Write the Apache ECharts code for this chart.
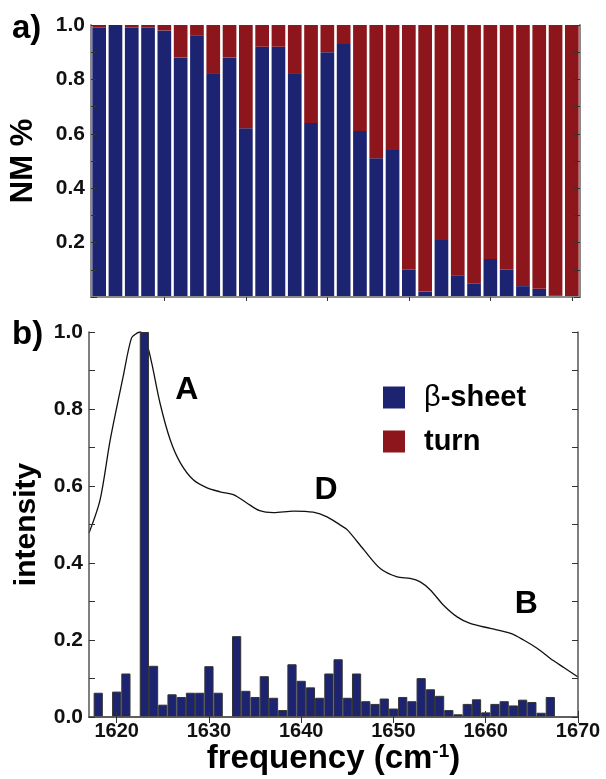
<!DOCTYPE html>
<html>
<head>
<meta charset="utf-8">
<script src="https://cdn.jsdelivr.net/npm/echarts@6/dist/echarts.min.js"></script>
<style>
html, body { margin: 0; padding: 0; background: #fff; }
#main { width: 606px; height: 779px; }
</style>
</head>
<body>
<div id="main"></div>
<script>
// panel a: fraction per cluster (blue = beta-sheet, red = turn)
var clusters = ['1', '2', '3', '4', '5', '6', '7', '8', '9', '10', '11', '12', '13', '14', '15',
	'16', '17', '18', '19', '20', '21', '22', '23', '24', '25', '26', '27', '28', '29', '30'];
var sheetFrac = [0.99, 1.00, 0.99, 0.99, 0.98, 0.88, 0.96, 0.82, 0.88, 0.62, 0.92, 0.92, 0.82, 0.64, 0.90,
	0.93, 0.61, 0.51, 0.54, 0.10, 0.02, 0.21, 0.08, 0.05, 0.14, 0.10, 0.04, 0.03, 0.005, 0.00];
var turnFrac = [0.01, 0.00, 0.01, 0.01, 0.02, 0.12, 0.04, 0.18, 0.12, 0.38, 0.08, 0.08, 0.18, 0.36, 0.10,
	0.07, 0.39, 0.49, 0.46, 0.90, 0.98, 0.79, 0.92, 0.95, 0.86, 0.90, 0.96, 0.97, 0.995, 1.00];

// panel b: beta-sheet histogram over frequency
var barFreq = [1618, 1620, 1621, 1623, 1624, 1625, 1626, 1627, 1628, 1629, 1630, 1631,
	1633, 1634, 1635, 1636, 1637, 1638, 1639, 1640, 1641, 1642, 1643, 1644, 1645, 1646, 1647, 1648, 1649,
	1650, 1651, 1652, 1653, 1654, 1655, 1656, 1657, 1658, 1659, 1660, 1661, 1662, 1663, 1664, 1665, 1666, 1667];
var barVal = [0.063, 0.066, 0.113, 1.00, 0.133, 0.032, 0.059, 0.052, 0.063, 0.063, 0.132, 0.063,
	0.21, 0.068, 0.052, 0.106, 0.050, 0.018, 0.137, 0.094, 0.077, 0.050, 0.113, 0.150, 0.050, 0.113, 0.041, 0.034, 0.048,
	0.022, 0.052, 0.041, 0.101, 0.072, 0.055, 0.018, 0.007, 0.034, 0.046, 0.012, 0.034, 0.041, 0.030, 0.045, 0.039, 0.011, 0.052];

// panel b: IR spectrum
var specFreq = [1617, 1618.2, 1619.3, 1620.7, 1621.6, 1622.2, 1622.6, 1623.3, 1623.8, 1624.7, 1625.8, 1626.9,
	1628.3, 1629.8, 1631.2, 1632.7, 1634.1, 1635.5, 1637.0, 1639.2, 1641.3, 1642.8, 1644.2, 1645.0, 1646.8,
	1648.6, 1650.4, 1651.8, 1652.9, 1654.0, 1655.4, 1656.9, 1658.3, 1660.5, 1662.7, 1664.1, 1665.6, 1667.0, 1668.5, 1670];
var specVal = [0.478, 0.564, 0.72, 0.884, 0.984, 0.997, 1.0, 0.966, 0.919, 0.815, 0.72, 0.66,
	0.616, 0.595, 0.585, 0.577, 0.556, 0.536, 0.531, 0.535, 0.532, 0.52, 0.499, 0.486, 0.434,
	0.385, 0.364, 0.36, 0.351, 0.33, 0.291, 0.26, 0.243, 0.23, 0.217, 0.2, 0.178, 0.152, 0.128, 0.104];

var freqTicks = [1620, 1630, 1640, 1650, 1660, 1670];
var peakNames = ['A', 'D', 'B'];
var peakFreq = [1627.6, 1642.7, 1664.4];
var peakVal = [0.85, 0.59, 0.293];

var FONT = '"Liberation Sans", Arial, sans-serif';
var BLUE = '#1c2471';
var RED = '#8c161b';
var FRAME_A = '#8a8a8a';
var FRAME_B = '#555555';

var chart = echarts.init(document.getElementById('main'));

var barPairs = [];
for (var i = 0; i < barFreq.length; i++) {
	barPairs.push([barFreq[i], barVal[i]]);
}
var specPairs = [];
for (var j = 0; j < specFreq.length; j++) {
	specPairs.push([specFreq[j], specVal[j]]);
}
var peakMarks = [];
for (var k = 0; k < peakNames.length; k++) {
	peakMarks.push({ name: peakNames[k], coord: [peakFreq[k], peakVal[k]] });
}

function sideAxis(grid, pos, color, width) {
	return {
		gridIndex: grid, type: 'value', min: 0, max: 1, interval: 0.2, position: pos, z: 10,
		axisLine: { show: true, lineStyle: { color: color, width: width } },
		axisTick: { show: true, inside: true, length: 6, lineStyle: { color: '#333' } },
		minorTick: { show: true, splitNumber: 2, length: 6, lineStyle: { color: '#333' } },
		axisLabel: { show: false },
		splitLine: { show: false }
	};
}

var yA = sideAxis(0, 'left', FRAME_A, 2);
yA.axisLabel = {
	show: true, margin: 6, fontSize: 21, fontWeight: 'bold', color: '#111', fontFamily: FONT,
	formatter: function (v) { return v === 0 ? '' : v.toFixed(1); }
};
yA.name = 'NM %';
yA.nameLocation = 'middle';
yA.nameGap = 52;
yA.nameTextStyle = { fontSize: 31, fontWeight: 'bold', color: '#000', fontFamily: FONT };

var yB = sideAxis(1, 'left', FRAME_B, 1.5);
yB.axisLabel = {
	show: true, margin: 6, fontSize: 21, fontWeight: 'bold', color: '#111', fontFamily: FONT,
	formatter: function (v) { return v.toFixed(1); }
};
yB.name = 'intensity';
yB.nameLocation = 'middle';
yB.nameGap = 47;
yB.nameTextStyle = { fontSize: 30, fontWeight: 'bold', color: '#000', fontFamily: FONT };

var option = {
	animation: false,
	backgroundColor: '#fff',
	textStyle: { fontFamily: FONT },
	legend: {
		orient: 'vertical',
		left: 378,
		top: 378,
		itemWidth: 22,
		itemHeight: 22,
		itemGap: 15,
		selectedMode: false,
		data: [{ name: 'β-sheet', icon: 'rect' }, { name: 'turn', icon: 'rect' }],
		formatter: function (name) {
			return name === 'β-sheet' ? '{g|β}-sheet' : name;
		},
		textStyle: {
			fontSize: 29, fontWeight: 'bold', color: '#000', fontFamily: FONT, padding: [0, 0, 0, 14],
			rich: { g: { fontSize: 29, fontWeight: 'normal', color: '#000', fontFamily: FONT } }
		}
	},
	graphic: [
		{ type: 'text', left: 12, top: 12, style: { text: 'a)', font: 'bold 33px ' + FONT, fill: '#000' } },
		{ type: 'text', left: 12, top: 318, style: { text: 'b)', font: 'bold 33px ' + FONT, fill: '#000' } }
	],
	grid: [
		{ left: 89, top: 25, width: 491, height: 272 },
		{ left: 89, top: 332, width: 489, height: 385 }
	],
	xAxis: [
		{
			gridIndex: 0, type: 'category', data: clusters, position: 'bottom', z: 10,
			axisLine: { show: true, lineStyle: { color: FRAME_A, width: 2 } },
			axisTick: { show: false }, axisLabel: { show: false }
		},
		{
			gridIndex: 0, type: 'category', data: clusters, position: 'top', z: 10,
			axisLine: { show: true, lineStyle: { color: FRAME_A, width: 2 } },
			axisTick: {
				show: true, inside: true, alignWithLabel: true, length: 4, lineStyle: { color: '#333' },
				interval: function (idx) { return idx % 5 === 4; }
			},
			axisLabel: { show: false }
		},
		{
			gridIndex: 1, type: 'value', min: 1617, max: 1670, position: 'bottom', z: 10,
			axisLine: { show: true, lineStyle: { color: FRAME_B, width: 1.5 } },
			axisTick: { show: true, inside: true, length: 6, customValues: freqTicks, lineStyle: { color: '#333' } },
			axisLabel: {
				show: true, customValues: freqTicks, margin: 4, fontSize: 20, fontWeight: 'bold', color: '#111', fontFamily: FONT,
				formatter: function (v) { return String(v); }
			},
			splitLine: { show: false },
			name: '{t|frequency (cm}{s|-1}{t|)}',
			nameLocation: 'middle',
			nameGap: 24,
			nameTextStyle: {
				rich: {
					t: { fontSize: 33, fontWeight: 'bold', color: '#000', fontFamily: FONT },
					s: { fontSize: 19, fontWeight: 'bold', color: '#000', fontFamily: FONT, verticalAlign: 'top', padding: [0, 0, 15, 0] }
				}
			}
		},
		{
			gridIndex: 1, type: 'value', min: 1617, max: 1670, position: 'top', z: 10,
			axisLine: { show: true, lineStyle: { color: FRAME_B, width: 1.5 } },
			axisTick: { show: true, inside: true, length: 6, customValues: freqTicks, lineStyle: { color: '#333' } },
			axisLabel: { show: false },
			splitLine: { show: false }
		}
	],
	yAxis: [
		yA,
		sideAxis(0, 'right', FRAME_A, 2),
		yB,
		sideAxis(1, 'right', FRAME_B, 1.5)
	],
	series: [
		{
			name: 'β-sheet', type: 'bar', xAxisIndex: 0, yAxisIndex: 0, stack: 'frac',
			data: sheetFrac, barCategoryGap: '16%', itemStyle: { color: BLUE }
		},
		{
			name: 'turn', type: 'bar', xAxisIndex: 0, yAxisIndex: 0, stack: 'frac',
			data: turnFrac, barCategoryGap: '16%', itemStyle: { color: RED }
		},
		{
			name: 'spectrum', type: 'line', xAxisIndex: 2, yAxisIndex: 2, z: 1,
			data: specPairs, smooth: 0.3, symbol: 'none',
			lineStyle: { color: '#111', width: 1.3 },
			markPoint: {
				symbol: 'rect', symbolSize: 1,
				itemStyle: { color: 'rgba(0,0,0,0)' },
				label: {
					show: true, position: 'inside', formatter: '{b}',
					fontSize: 32, fontWeight: 'bold', color: '#000', fontFamily: FONT
				},
				data: peakMarks
			}
		},
		{
			name: 'β-sheet', type: 'bar', xAxisIndex: 2, yAxisIndex: 2, z: 3,
			data: barPairs, barWidth: 9.2,
			itemStyle: { color: BLUE, borderColor: '#333', borderWidth: 1 }
		}
	]
};

chart.setOption(option);
</script>
</body>
</html>
